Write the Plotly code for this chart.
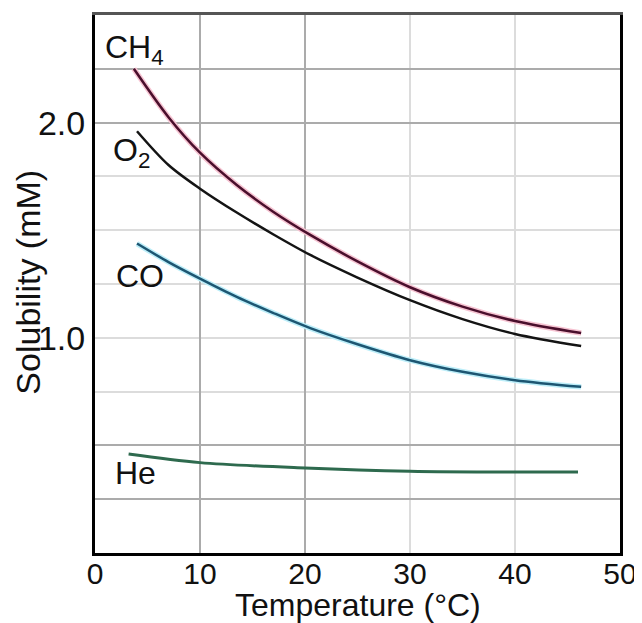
import plotly.graph_objects as go

temp = [4, 7, 10, 13.5, 17, 20.5, 25, 30, 35, 40, 46.3]
ch4_temp = [3.7, 7, 10, 13.5, 17, 20.5, 25, 30, 35, 40, 46.3]
ch4 = [2.25, 2.025, 1.86, 1.71, 1.585, 1.478, 1.355, 1.235, 1.145, 1.078, 1.022]
o2 = [1.96, 1.803, 1.693, 1.582, 1.48, 1.385, 1.28, 1.175, 1.087, 1.018, 0.962]
co = [1.438, 1.352, 1.275, 1.19, 1.115, 1.045, 0.97, 0.896, 0.842, 0.803, 0.772]
he_temp = [3.2, 10, 20, 30, 40, 46]
he = [0.46, 0.42, 0.395, 0.38, 0.376, 0.376]

x_ticks = [0, 10, 20, 30, 40, 50]
y_ticks = [1.0, 2.0]
y_labels = ["1.0", "2.0"]
y_grid_step = 0.25
dark_y_grid = [0.25, 0.5, 2.0, 2.25]
dark_x_grid = [10, 20]

FONT = "Liberation Sans, Arial, sans-serif"
TXT = "#111111"

fig = go.Figure()

def add_line(x, y, color, width, halo=None):
    if halo:
        fig.add_trace(go.Scatter(x=x, y=y, mode="lines", xaxis="x2", yaxis="y2",
                                 line=dict(color=halo, width=width + 3, shape="spline", smoothing=0.9),
                                 hoverinfo="skip", showlegend=False))
    fig.add_trace(go.Scatter(x=x, y=y, mode="lines", xaxis="x2", yaxis="y2",
                             line=dict(color=color, width=width, shape="spline", smoothing=0.9),
                             showlegend=False))

add_line(ch4_temp, ch4, "#4a0f2c", 2.5, "#f6c4d2")
add_line(temp, o2, "#141414", 2.5)
add_line(temp, co, "#1d5672", 2.5, "#bdeef9")
add_line(he_temp, he, "#2e6a4e", 3)

labels = [
    ("CH<sub>4</sub>", 0.8, 2.34),
    ("O<sub>2</sub>", 1.5, 1.86),
    ("CO", 1.8, 1.286),
    ("He", 1.7, 0.371),
]
for txt, lx, ly in labels:
    fig.add_annotation(x=lx, y=ly, xref="x", yref="y", text=txt, showarrow=False,
                       xanchor="left", yanchor="middle",
                       font=dict(family=FONT, size=32, color=TXT))

# axis titles
fig.add_annotation(x=0.5, y=-0.097, xref="paper", yref="paper", text="Temperature (°C)",
                   showarrow=False, xanchor="center", yanchor="middle",
                   font=dict(family=FONT, size=32, color=TXT))
fig.add_annotation(x=-0.128, y=0.504, xref="paper", yref="paper", text="Solubility (mM)",
                   showarrow=False, xanchor="center", yanchor="middle", textangle=-90,
                   font=dict(family=FONT, size=34, color=TXT))

fig.update_layout(
    width=634, height=615,
    margin=dict(l=87, r=22, t=7, b=70),
    paper_bgcolor="white", plot_bgcolor="white",
    font=dict(family=FONT, color=TXT),
    xaxis=dict(range=[0, 50], tickvals=x_ticks, ticktext=[str(v) for v in x_ticks],
               showgrid=True, gridcolor="#dcdcdc", gridwidth=2,
               showline=True, linecolor="black", linewidth=3,
               ticks="", zeroline=False, automargin=False,
               ticklabelstandoff=-8,
               tickfont=dict(size=30, family=FONT, color=TXT)),
    yaxis=dict(range=[0, 2.5], tickvals=y_ticks, ticktext=y_labels,
               showgrid=True, gridcolor="#dcdcdc", gridwidth=2,
               minor=dict(tickmode="linear", tick0=0, dtick=y_grid_step, showgrid=True,
                          gridcolor="#dcdcdc", gridwidth=2, ticks=""),
               showline=True, linecolor="black", linewidth=3,
               ticks="", zeroline=False, automargin=False,
               tickfont=dict(size=34, family=FONT, color=TXT)),
    xaxis2=dict(range=[0, 50], overlaying="x", side="top", anchor="y2",
                tickvals=dark_x_grid, showticklabels=False, ticks="",
                showgrid=True, gridcolor="#ababab", gridwidth=2, automargin=False,
                showline=True, linecolor="#555555", linewidth=3, zeroline=False),
    yaxis2=dict(range=[0, 2.5], overlaying="y", side="right", anchor="x2",
                tickvals=dark_y_grid, showticklabels=False, ticks="",
                showgrid=True, gridcolor="#ababab", gridwidth=2, automargin=False,
                showline=True, linecolor="black", linewidth=3, zeroline=False),
)

fig.write_html("out.html")
